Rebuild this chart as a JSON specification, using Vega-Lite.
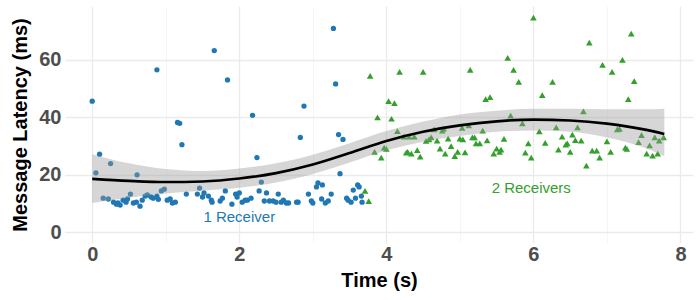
{
  "$schema": "https://vega.github.io/schema/vega-lite/v6.json",
  "width": 700,
  "height": 300,
  "autosize": {"type": "fit", "contains": "padding"},
  "padding": {"left": 10, "top": 6, "right": 7, "bottom": 10},
  "background": "white",
  "config": {
    "view": {"stroke": null},
    "font": "Liberation Sans",
    "axis": {
      "domain": false,
      "ticks": false,
      "labelFont": "Liberation Sans",
      "labelFontWeight": "bold",
      "labelFontSize": 20,
      "labelColor": "#4D4D4D",
      "titleFont": "Liberation Sans",
      "titleFontSize": 20,
      "titleFontWeight": "bold",
      "titleColor": "#000000"
    }
  },
  "datasets": {
    "pts": [
      {"t": 0, "ms": 45.6, "group": "1 Receiver"},
      {"t": 0.1, "ms": 27.2, "group": "1 Receiver"},
      {"t": 0.05, "ms": 20.7, "group": "1 Receiver"},
      {"t": 0.25, "ms": 23.9, "group": "1 Receiver"},
      {"t": 0.61, "ms": 20, "group": "1 Receiver"},
      {"t": 0.88, "ms": 56.5, "group": "1 Receiver"},
      {"t": 1.16, "ms": 38.2, "group": "1 Receiver"},
      {"t": 1.19, "ms": 37.9, "group": "1 Receiver"},
      {"t": 1.22, "ms": 30.5, "group": "1 Receiver"},
      {"t": 1.66, "ms": 63.2, "group": "1 Receiver"},
      {"t": 1.84, "ms": 53, "group": "1 Receiver"},
      {"t": 2.18, "ms": 40.7, "group": "1 Receiver"},
      {"t": 2.24, "ms": 26, "group": "1 Receiver"},
      {"t": 2.3, "ms": 17.5, "group": "1 Receiver"},
      {"t": 2.83, "ms": 33, "group": "1 Receiver"},
      {"t": 2.88, "ms": 43.9, "group": "1 Receiver"},
      {"t": 3.28, "ms": 70.9, "group": "1 Receiver"},
      {"t": 3.31, "ms": 51.6, "group": "1 Receiver"},
      {"t": 3.35, "ms": 34, "group": "1 Receiver"},
      {"t": 3.41, "ms": 32.3, "group": "1 Receiver"},
      {"t": 3.37, "ms": 20.4, "group": "1 Receiver"},
      {"t": 0.15, "ms": 11.9, "group": "1 Receiver"},
      {"t": 0.22, "ms": 11.6, "group": "1 Receiver"},
      {"t": 0.29, "ms": 10.5, "group": "1 Receiver"},
      {"t": 0.33, "ms": 9.8, "group": "1 Receiver"},
      {"t": 0.35, "ms": 10.2, "group": "1 Receiver"},
      {"t": 0.38, "ms": 9.5, "group": "1 Receiver"},
      {"t": 0.42, "ms": 11.2, "group": "1 Receiver"},
      {"t": 0.46, "ms": 10.5, "group": "1 Receiver"},
      {"t": 0.48, "ms": 11.6, "group": "1 Receiver"},
      {"t": 0.52, "ms": 13.3, "group": "1 Receiver"},
      {"t": 0.56, "ms": 10.2, "group": "1 Receiver"},
      {"t": 0.6, "ms": 10.5, "group": "1 Receiver"},
      {"t": 0.65, "ms": 9.1, "group": "1 Receiver"},
      {"t": 0.68, "ms": 11.2, "group": "1 Receiver"},
      {"t": 0.72, "ms": 12.6, "group": "1 Receiver"},
      {"t": 0.75, "ms": 13, "group": "1 Receiver"},
      {"t": 0.8, "ms": 12.3, "group": "1 Receiver"},
      {"t": 0.83, "ms": 11.9, "group": "1 Receiver"},
      {"t": 0.88, "ms": 12.6, "group": "1 Receiver"},
      {"t": 0.9, "ms": 11.5, "group": "1 Receiver"},
      {"t": 0.94, "ms": 14.4, "group": "1 Receiver"},
      {"t": 0.98, "ms": 15, "group": "1 Receiver"},
      {"t": 1.02, "ms": 11.2, "group": "1 Receiver"},
      {"t": 1.06, "ms": 11.6, "group": "1 Receiver"},
      {"t": 1.09, "ms": 10.2, "group": "1 Receiver"},
      {"t": 1.13, "ms": 10.5, "group": "1 Receiver"},
      {"t": 1.28, "ms": 13.3, "group": "1 Receiver"},
      {"t": 1.43, "ms": 13.3, "group": "1 Receiver"},
      {"t": 1.46, "ms": 15.4, "group": "1 Receiver"},
      {"t": 1.5, "ms": 12.3, "group": "1 Receiver"},
      {"t": 1.52, "ms": 13.7, "group": "1 Receiver"},
      {"t": 1.58, "ms": 12.6, "group": "1 Receiver"},
      {"t": 1.62, "ms": 11.2, "group": "1 Receiver"},
      {"t": 1.63, "ms": 10.5, "group": "1 Receiver"},
      {"t": 1.74, "ms": 10.9, "group": "1 Receiver"},
      {"t": 1.77, "ms": 11.9, "group": "1 Receiver"},
      {"t": 1.81, "ms": 14.4, "group": "1 Receiver"},
      {"t": 1.9, "ms": 9.8, "group": "1 Receiver"},
      {"t": 1.95, "ms": 13.3, "group": "1 Receiver"},
      {"t": 1.97, "ms": 12.3, "group": "1 Receiver"},
      {"t": 2.0, "ms": 13.7, "group": "1 Receiver"},
      {"t": 2.04, "ms": 10.5, "group": "1 Receiver"},
      {"t": 2.08, "ms": 11.2, "group": "1 Receiver"},
      {"t": 2.11, "ms": 11.2, "group": "1 Receiver"},
      {"t": 2.16, "ms": 11.9, "group": "1 Receiver"},
      {"t": 2.27, "ms": 14.4, "group": "1 Receiver"},
      {"t": 2.34, "ms": 10.9, "group": "1 Receiver"},
      {"t": 2.37, "ms": 13.7, "group": "1 Receiver"},
      {"t": 2.41, "ms": 10.9, "group": "1 Receiver"},
      {"t": 2.46, "ms": 10.9, "group": "1 Receiver"},
      {"t": 2.5, "ms": 10.5, "group": "1 Receiver"},
      {"t": 2.53, "ms": 13.3, "group": "1 Receiver"},
      {"t": 2.57, "ms": 10.5, "group": "1 Receiver"},
      {"t": 2.6, "ms": 11.2, "group": "1 Receiver"},
      {"t": 2.64, "ms": 10.2, "group": "1 Receiver"},
      {"t": 2.67, "ms": 10.2, "group": "1 Receiver"},
      {"t": 2.78, "ms": 10.5, "group": "1 Receiver"},
      {"t": 2.8, "ms": 10.5, "group": "1 Receiver"},
      {"t": 2.94, "ms": 13.3, "group": "1 Receiver"},
      {"t": 2.98, "ms": 10.9, "group": "1 Receiver"},
      {"t": 3.0, "ms": 10.2, "group": "1 Receiver"},
      {"t": 3.05, "ms": 15.8, "group": "1 Receiver"},
      {"t": 3.07, "ms": 17.2, "group": "1 Receiver"},
      {"t": 3.13, "ms": 16.5, "group": "1 Receiver"},
      {"t": 3.12, "ms": 11.6, "group": "1 Receiver"},
      {"t": 3.17, "ms": 10.2, "group": "1 Receiver"},
      {"t": 3.21, "ms": 10.9, "group": "1 Receiver"},
      {"t": 3.25, "ms": 13.3, "group": "1 Receiver"},
      {"t": 3.46, "ms": 11.9, "group": "1 Receiver"},
      {"t": 3.48, "ms": 11.2, "group": "1 Receiver"},
      {"t": 3.52, "ms": 10.5, "group": "1 Receiver"},
      {"t": 3.55, "ms": 14.7, "group": "1 Receiver"},
      {"t": 3.58, "ms": 11.9, "group": "1 Receiver"},
      {"t": 3.61, "ms": 16.5, "group": "1 Receiver"},
      {"t": 3.63, "ms": 15.8, "group": "1 Receiver"},
      {"t": 3.66, "ms": 12.6, "group": "1 Receiver"},
      {"t": 3.67, "ms": 10.5, "group": "1 Receiver"},
      {"t": 3.71, "ms": 14.4, "group": "2 Receivers"},
      {"t": 3.76, "ms": 10.9, "group": "2 Receivers"},
      {"t": 3.78, "ms": 54.4, "group": "2 Receivers"},
      {"t": 3.84, "ms": 28, "group": "2 Receivers"},
      {"t": 3.88, "ms": 40, "group": "2 Receivers"},
      {"t": 3.93, "ms": 26, "group": "2 Receivers"},
      {"t": 3.97, "ms": 29.5, "group": "2 Receivers"},
      {"t": 4.0, "ms": 29, "group": "2 Receivers"},
      {"t": 4.03, "ms": 45.6, "group": "2 Receivers"},
      {"t": 4.07, "ms": 39.5, "group": "2 Receivers"},
      {"t": 4.11, "ms": 44.9, "group": "2 Receivers"},
      {"t": 4.15, "ms": 35.2, "group": "2 Receivers"},
      {"t": 4.18, "ms": 55.8, "group": "2 Receivers"},
      {"t": 4.24, "ms": 33.3, "group": "2 Receivers"},
      {"t": 4.27, "ms": 27.7, "group": "2 Receivers"},
      {"t": 4.29, "ms": 28, "group": "2 Receivers"},
      {"t": 4.31, "ms": 33.3, "group": "2 Receivers"},
      {"t": 4.34, "ms": 27.4, "group": "2 Receivers"},
      {"t": 4.38, "ms": 33.3, "group": "2 Receivers"},
      {"t": 4.42, "ms": 28.6, "group": "2 Receivers"},
      {"t": 4.46, "ms": 26.3, "group": "2 Receivers"},
      {"t": 4.5, "ms": 55.8, "group": "2 Receivers"},
      {"t": 4.54, "ms": 31.8, "group": "2 Receivers"},
      {"t": 4.58, "ms": 32.3, "group": "2 Receivers"},
      {"t": 4.61, "ms": 33, "group": "2 Receivers"},
      {"t": 4.65, "ms": 35.8, "group": "2 Receivers"},
      {"t": 4.69, "ms": 31.9, "group": "2 Receivers"},
      {"t": 4.73, "ms": 29.1, "group": "2 Receivers"},
      {"t": 4.76, "ms": 35.4, "group": "2 Receivers"},
      {"t": 4.78, "ms": 36.1, "group": "2 Receivers"},
      {"t": 4.8, "ms": 27.4, "group": "2 Receivers"},
      {"t": 4.84, "ms": 32.6, "group": "2 Receivers"},
      {"t": 4.88, "ms": 30, "group": "2 Receivers"},
      {"t": 4.93, "ms": 26.5, "group": "2 Receivers"},
      {"t": 4.97, "ms": 28, "group": "2 Receivers"},
      {"t": 5.0, "ms": 32.6, "group": "2 Receivers"},
      {"t": 5.03, "ms": 36.3, "group": "2 Receivers"},
      {"t": 5.04, "ms": 32.3, "group": "2 Receivers"},
      {"t": 5.07, "ms": 27.8, "group": "2 Receivers"},
      {"t": 5.12, "ms": 37.2, "group": "2 Receivers"},
      {"t": 5.14, "ms": 56.5, "group": "2 Receivers"},
      {"t": 5.17, "ms": 33, "group": "2 Receivers"},
      {"t": 5.2, "ms": 33, "group": "2 Receivers"},
      {"t": 5.22, "ms": 30.9, "group": "2 Receivers"},
      {"t": 5.27, "ms": 30.9, "group": "2 Receivers"},
      {"t": 5.31, "ms": 35.4, "group": "2 Receivers"},
      {"t": 5.35, "ms": 46.3, "group": "2 Receivers"},
      {"t": 5.37, "ms": 32, "group": "2 Receivers"},
      {"t": 5.41, "ms": 47, "group": "2 Receivers"},
      {"t": 5.46, "ms": 27.4, "group": "2 Receivers"},
      {"t": 5.5, "ms": 29.1, "group": "2 Receivers"},
      {"t": 5.54, "ms": 28, "group": "2 Receivers"},
      {"t": 5.56, "ms": 28.8, "group": "2 Receivers"},
      {"t": 5.6, "ms": 32.5, "group": "2 Receivers"},
      {"t": 5.65, "ms": 60.7, "group": "2 Receivers"},
      {"t": 5.69, "ms": 40.6, "group": "2 Receivers"},
      {"t": 5.73, "ms": 56.5, "group": "2 Receivers"},
      {"t": 5.8, "ms": 52.3, "group": "2 Receivers"},
      {"t": 5.85, "ms": 37.9, "group": "2 Receivers"},
      {"t": 5.89, "ms": 27.7, "group": "2 Receivers"},
      {"t": 5.93, "ms": 30.9, "group": "2 Receivers"},
      {"t": 5.97, "ms": 26, "group": "2 Receivers"},
      {"t": 6.0, "ms": 74.7, "group": "2 Receivers"},
      {"t": 6.08, "ms": 35.1, "group": "2 Receivers"},
      {"t": 6.12, "ms": 47.7, "group": "2 Receivers"},
      {"t": 6.16, "ms": 31.1, "group": "2 Receivers"},
      {"t": 6.26, "ms": 52.3, "group": "2 Receivers"},
      {"t": 6.31, "ms": 36.5, "group": "2 Receivers"},
      {"t": 6.34, "ms": 28.8, "group": "2 Receivers"},
      {"t": 6.39, "ms": 33.3, "group": "2 Receivers"},
      {"t": 6.44, "ms": 30.5, "group": "2 Receivers"},
      {"t": 6.46, "ms": 30.9, "group": "2 Receivers"},
      {"t": 6.5, "ms": 28, "group": "2 Receivers"},
      {"t": 6.53, "ms": 34, "group": "2 Receivers"},
      {"t": 6.57, "ms": 32.1, "group": "2 Receivers"},
      {"t": 6.6, "ms": 36.5, "group": "2 Receivers"},
      {"t": 6.65, "ms": 31.9, "group": "2 Receivers"},
      {"t": 6.68, "ms": 42.1, "group": "2 Receivers"},
      {"t": 6.72, "ms": 23.2, "group": "2 Receivers"},
      {"t": 6.76, "ms": 66, "group": "2 Receivers"},
      {"t": 6.8, "ms": 28.4, "group": "2 Receivers"},
      {"t": 6.86, "ms": 28.4, "group": "2 Receivers"},
      {"t": 6.9, "ms": 26, "group": "2 Receivers"},
      {"t": 6.94, "ms": 58.2, "group": "2 Receivers"},
      {"t": 7.0, "ms": 31.6, "group": "2 Receivers"},
      {"t": 7.05, "ms": 28, "group": "2 Receivers"},
      {"t": 7.07, "ms": 55.8, "group": "2 Receivers"},
      {"t": 7.14, "ms": 35.8, "group": "2 Receivers"},
      {"t": 7.17, "ms": 36, "group": "2 Receivers"},
      {"t": 7.21, "ms": 60, "group": "2 Receivers"},
      {"t": 7.25, "ms": 29.5, "group": "2 Receivers"},
      {"t": 7.27, "ms": 29, "group": "2 Receivers"},
      {"t": 7.29, "ms": 46.3, "group": "2 Receivers"},
      {"t": 7.33, "ms": 69.1, "group": "2 Receivers"},
      {"t": 7.37, "ms": 52.6, "group": "2 Receivers"},
      {"t": 7.43, "ms": 31.4, "group": "2 Receivers"},
      {"t": 7.47, "ms": 33.8, "group": "2 Receivers"},
      {"t": 7.54, "ms": 27.4, "group": "2 Receivers"},
      {"t": 7.58, "ms": 30.2, "group": "2 Receivers"},
      {"t": 7.62, "ms": 26.7, "group": "2 Receivers"},
      {"t": 7.65, "ms": 33, "group": "2 Receivers"},
      {"t": 7.69, "ms": 27.4, "group": "2 Receivers"},
      {"t": 7.71, "ms": 31.9, "group": "2 Receivers"},
      {"t": 7.77, "ms": 33, "group": "2 Receivers"}
    ],
    "smooth": [
      {"t": 0, "fit": 18.6, "lo": 10.2, "hi": 27.2},
      {"t": 0.5, "fit": 17.9, "lo": 12, "hi": 24},
      {"t": 1, "fit": 17.5, "lo": 13.5, "hi": 22},
      {"t": 1.5, "fit": 17.7, "lo": 14.5, "hi": 21.3},
      {"t": 2, "fit": 18.7, "lo": 15.5, "hi": 22.2},
      {"t": 2.5, "fit": 20.6, "lo": 17.3, "hi": 24},
      {"t": 3, "fit": 23.6, "lo": 20.3, "hi": 27},
      {"t": 3.5, "fit": 27.6, "lo": 24.3, "hi": 31},
      {"t": 4, "fit": 31.8, "lo": 28.5, "hi": 35.2},
      {"t": 4.5, "fit": 35, "lo": 31.5, "hi": 38.5},
      {"t": 5, "fit": 37.2, "lo": 33.5, "hi": 41},
      {"t": 5.5, "fit": 38.6, "lo": 35, "hi": 42.3},
      {"t": 6, "fit": 39.2, "lo": 35.4, "hi": 43},
      {"t": 6.5, "fit": 38.9, "lo": 35, "hi": 43},
      {"t": 7, "fit": 37.8, "lo": 33, "hi": 42.8},
      {"t": 7.5, "fit": 35.8, "lo": 29.5, "hi": 42.8},
      {"t": 7.78, "fit": 34.2, "lo": 26.5, "hi": 43}
    ],
    "labels": [
      {"t": 2.0, "ms": 5.3, "group": "1 Receiver"},
      {"t": 5.97, "ms": 15.4, "group": "2 Receivers"}
    ]
  },
  "layer": [
    {
      "data": {"name": "pts"},
      "mark": {"type": "point", "filled": true, "opacity": 1},
      "encoding": {
        "x": {
          "field": "t", "type": "quantitative",
          "scale": {"domain": [-0.37, 8.17], "nice": false, "zero": false},
          "axis": {
            "values": [0, 1, 2, 3, 4, 5, 6, 7, 8],
            "format": "d",
            "labelExpr": "datum.value % 2 === 0 ? datum.label : ''",
            "grid": true,
            "gridColor": {"condition": {"test": "datum.value % 2 === 0", "value": "#EBEBEB"}, "value": "#F3F3F3"},
            "gridWidth": {"condition": {"test": "datum.value % 2 === 0", "value": 1.3}, "value": 0.8},
            "labelPadding": 1,
            "titlePadding": 6
          },
          "title": "Time (s)"
        },
        "y": {
          "field": "ms", "type": "quantitative",
          "scale": {"domain": [-3.7, 78.7], "nice": false, "zero": false},
          "axis": {
            "values": [0, 10, 20, 30, 40, 50, 60, 70],
            "format": "d",
            "labelExpr": "datum.value % 20 === 0 ? datum.label : ''",
            "grid": true,
            "gridColor": {"condition": {"test": "datum.value % 20 === 0", "value": "#EBEBEB"}, "value": "#F3F3F3"},
            "gridWidth": {"condition": {"test": "datum.value % 20 === 0", "value": 1.3}, "value": 0.8},
            "labelPadding": 4,
            "titlePadding": 8
          },
          "title": "Message Latency (ms)"
        },
        "color": {
          "field": "group", "type": "nominal",
          "scale": {"domain": ["1 Receiver", "2 Receivers"], "range": ["#1F78B4", "#33A02C"]},
          "legend": null
        },
        "shape": {
          "field": "group", "type": "nominal",
          "scale": {"domain": ["1 Receiver", "2 Receivers"], "range": ["circle", "triangle-up"]},
          "legend": null
        },
        "size": {
          "field": "group", "type": "nominal",
          "scale": {"domain": ["1 Receiver", "2 Receivers"], "range": [28, 44]},
          "legend": null
        }
      }
    },
    {
      "data": {"name": "smooth"},
      "mark": {"type": "area", "color": "#999999", "opacity": 0.4, "interpolate": "monotone"},
      "encoding": {
        "x": {"field": "t", "type": "quantitative"},
        "y": {"field": "lo", "type": "quantitative"},
        "y2": {"field": "hi"}
      }
    },
    {
      "data": {"name": "smooth"},
      "mark": {"type": "line", "color": "#000000", "strokeWidth": 2.6, "interpolate": "monotone"},
      "encoding": {
        "x": {"field": "t", "type": "quantitative"},
        "y": {"field": "fit", "type": "quantitative"}
      }
    },
    {
      "data": {"name": "labels"},
      "mark": {"type": "text", "font": "Liberation Sans", "fontSize": 15, "align": "center", "baseline": "middle"},
      "encoding": {
        "x": {"field": "t", "type": "quantitative"},
        "y": {"field": "ms", "type": "quantitative"},
        "text": {"field": "group", "type": "nominal"},
        "color": {"field": "group", "type": "nominal", "legend": null}
      }
    }
  ]
}
